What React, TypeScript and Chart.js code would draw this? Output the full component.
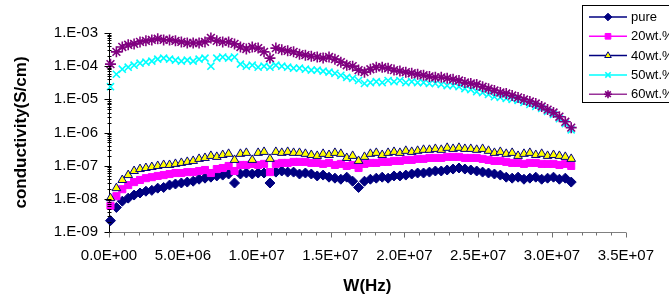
import React, { useEffect, useRef } from 'react';
import { Chart, registerables } from 'chart.js';
import { drawPoint } from 'chart.js/helpers';

Chart.register(...registerables);

// Frequency W (Hz)
const W_HZ = [
  0.1e6, 0.5e6, 0.9e6, 1.3e6, 1.7e6, 2.1e6, 2.5e6, 2.9e6, 3.3e6, 3.7e6,
  4.1e6, 4.5e6, 4.9e6, 5.3e6, 5.7e6, 6.1e6, 6.5e6, 6.9e6, 7.3e6, 7.7e6,
  8.1e6, 8.5e6, 8.9e6, 9.3e6, 9.7e6, 10.1e6, 10.5e6, 10.9e6, 11.3e6, 11.7e6,
  12.1e6, 12.5e6, 12.9e6, 13.3e6, 13.7e6, 14.1e6, 14.5e6, 14.9e6, 15.3e6, 15.7e6,
  16.1e6, 16.5e6, 16.9e6, 17.3e6, 17.7e6, 18.1e6, 18.5e6, 18.9e6, 19.3e6, 19.7e6,
  20.1e6, 20.5e6, 20.9e6, 21.3e6, 21.7e6, 22.1e6, 22.5e6, 22.9e6, 23.3e6, 23.7e6,
  24.1e6, 24.5e6, 24.9e6, 25.3e6, 25.7e6, 26.1e6, 26.5e6, 26.9e6, 27.3e6, 27.7e6,
  28.1e6, 28.5e6, 28.9e6, 29.3e6, 29.7e6, 30.1e6, 30.5e6, 30.9e6, 31.3e6,
];

// Conductivity (S/cm)
const PURE = [
  2.2e-9, 5.5e-9, 8.5e-9, 1.05e-8, 1.3e-8, 1.5e-8, 1.7e-8, 1.8e-8, 2.1e-8, 2.2e-8,
  2.6e-8, 2.8e-8, 3.0e-8, 3.2e-8, 3.4e-8, 3.9e-8, 4.2e-8, 4.5e-8, 4.9e-8, 5.2e-8,
  5.6e-8, 3.0e-8, 5.6e-8, 6.0e-8, 5.6e-8, 6.0e-8, 6.0e-8, 3.0e-8, 6.4e-8, 6.9e-8,
  6.4e-8, 6.4e-8, 5.6e-8, 6.0e-8, 5.6e-8, 4.9e-8, 5.2e-8, 4.5e-8, 4.2e-8, 3.9e-8,
  4.5e-8, 3.4e-8, 2.2e-8, 3.4e-8, 3.9e-8, 4.2e-8, 4.5e-8, 4.2e-8, 4.9e-8, 4.9e-8,
  5.2e-8, 5.6e-8, 6.0e-8, 6.0e-8, 6.4e-8, 6.9e-8, 6.9e-8, 7.4e-8, 7.9e-8, 8.5e-8,
  7.9e-8, 7.4e-8, 6.9e-8, 6.4e-8, 6.0e-8, 5.6e-8, 5.2e-8, 4.5e-8, 4.2e-8, 4.5e-8,
  3.9e-8, 4.2e-8, 4.5e-8, 3.9e-8, 4.2e-8, 4.5e-8, 3.9e-8, 4.2e-8, 3.2e-8,
];
const WT20 = [
  6.2e-9, 1.2e-8, 1.95e-8, 2.6e-8, 3.2e-8, 3.7e-8, 4.2e-8, 4.5e-8, 4.9e-8, 5.2e-8,
  5.6e-8, 6.0e-8, 6.0e-8, 6.4e-8, 6.4e-8, 6.9e-8, 7.4e-8, 6.0e-8, 7.9e-8, 8.5e-8,
  9.8e-8, 6.9e-8, 1.05e-7, 1.05e-7, 1.13e-7, 1.05e-7, 1.13e-7, 6.4e-8, 1.13e-7, 1.21e-7,
  1.21e-7, 1.3e-7, 1.3e-7, 1.3e-7, 1.21e-7, 1.21e-7, 1.13e-7, 1.21e-7, 1.05e-7, 1.13e-7,
  9.8e-8, 1.05e-7, 8.5e-8, 1.13e-7, 1.21e-7, 1.21e-7, 1.3e-7, 1.3e-7, 1.39e-7, 1.39e-7,
  1.49e-7, 1.49e-7, 1.6e-7, 1.6e-7, 1.71e-7, 1.71e-7, 1.71e-7, 1.84e-7, 1.84e-7, 1.84e-7,
  1.71e-7, 1.71e-7, 1.71e-7, 1.6e-7, 1.49e-7, 1.39e-7, 1.39e-7, 1.3e-7, 1.21e-7, 1.21e-7,
  1.13e-7, 1.21e-7, 1.21e-7, 1.13e-7, 1.13e-7, 1.13e-7, 1.05e-7, 1.13e-7, 9.8e-8,
];
const WT40 = [
  1.05e-8, 2.1e-8, 3.7e-8, 5.2e-8, 6.9e-8, 7.9e-8, 8.5e-8, 9.1e-8, 9.8e-8, 1.05e-7,
  1.05e-7, 1.13e-7, 1.21e-7, 1.3e-7, 1.39e-7, 1.6e-7, 1.71e-7, 1.97e-7, 1.84e-7, 2.1e-7,
  2.27e-7, 1.49e-7, 2.27e-7, 2.43e-7, 1.49e-7, 2.43e-7, 2.6e-7, 1.6e-7, 2.6e-7, 2.43e-7,
  2.6e-7, 2.43e-7, 2.43e-7, 2.27e-7, 2.1e-7, 1.97e-7, 2.27e-7, 2.1e-7, 2.43e-7, 2.27e-7,
  1.71e-7, 1.97e-7, 1.39e-7, 1.84e-7, 2.27e-7, 2.43e-7, 2.1e-7, 2.43e-7, 2.6e-7, 2.43e-7,
  2.8e-7, 2.6e-7, 2.8e-7, 3.0e-7, 3.0e-7, 3.2e-7, 3.0e-7, 3.45e-7, 3.2e-7, 3.45e-7,
  3.2e-7, 3.2e-7, 3.0e-7, 3.2e-7, 2.8e-7, 2.43e-7, 2.6e-7, 2.27e-7, 2.43e-7, 1.97e-7,
  2.27e-7, 2.43e-7, 2.1e-7, 2.27e-7, 1.97e-7, 2.1e-7, 1.97e-7, 1.84e-7, 1.6e-7,
];
const WT50 = [
  2.4e-5, 5.7e-5, 8.1e-5, 9.3e-5, 1.07e-4, 1.23e-4, 1.32e-4, 1.42e-4, 1.63e-4, 1.75e-4,
  1.63e-4, 1.52e-4, 1.42e-4, 1.52e-4, 1.42e-4, 1.63e-4, 1.75e-4, 1.0e-4, 1.75e-4, 1.88e-4,
  1.75e-4, 1.88e-4, 1.15e-4, 1.0e-4, 1.07e-4, 9.3e-5, 1.0e-4, 9.3e-5, 1.07e-4, 1.0e-4,
  9.3e-5, 8.7e-5, 8.7e-5, 8.1e-5, 7.6e-5, 7.6e-5, 7.1e-5, 6.6e-5, 6.1e-5, 5.3e-5,
  4.6e-5, 4.3e-5, 3.7e-5, 3.0e-5, 3.2e-5, 3.4e-5, 3.2e-5, 3.7e-5, 3.4e-5, 3.7e-5,
  3.2e-5, 3.4e-5, 3.2e-5, 3.2e-5, 3.0e-5, 3.0e-5, 2.8e-5, 2.6e-5, 2.6e-5, 2.4e-5,
  2.1e-5, 1.97e-5, 1.7e-5, 1.6e-5, 1.4e-5, 1.2e-5, 1.14e-5, 1.06e-5, 9.9e-6, 9.3e-6,
  8.1e-6, 7.0e-6, 6.1e-6, 5.3e-6, 4.3e-6, 3.5e-6, 2.6e-6, 1.85e-6, 1.2e-6,
];
const WT60 = [
  1.15e-4, 2.7e-4, 3.8e-4, 4.4e-4, 4.7e-4, 5.4e-4, 5.8e-4, 6.2e-4, 6.7e-4, 6.2e-4,
  6.2e-4, 5.8e-4, 5.4e-4, 5.0e-4, 5.0e-4, 5.0e-4, 5.4e-4, 7.1e-4, 5.8e-4, 5.4e-4,
  5.4e-4, 4.7e-4, 3.8e-4, 3.3e-4, 3.8e-4, 3.5e-4, 2.7e-4, 1.75e-4, 3.5e-4, 3.1e-4,
  2.9e-4, 2.7e-4, 2.3e-4, 2.15e-4, 2.0e-4, 1.88e-4, 1.75e-4, 1.88e-4, 1.63e-4, 1.32e-4,
  1.07e-4, 1.0e-4, 7.6e-5, 6.6e-5, 8.1e-5, 9.3e-5, 9.3e-5, 8.7e-5, 7.6e-5, 7.1e-5,
  6.6e-5, 6.1e-5, 5.7e-5, 5.3e-5, 4.9e-5, 4.6e-5, 4.6e-5, 4.3e-5, 4.0e-5, 3.7e-5,
  3.2e-5, 3.0e-5, 2.8e-5, 2.4e-5, 2.1e-5, 1.85e-5, 1.6e-5, 1.5e-5, 1.3e-5, 1.14e-5,
  9.9e-6, 8.6e-6, 7.5e-6, 6.1e-6, 4.9e-6, 4.0e-6, 3.0e-6, 2.1e-6, 1.4e-6,
];

const SERIES_LABELS = ['pure', '20wt.%', '40wt.%', '50wt.%', '60wt.%'];

const X_TICK_VALUES = [0, 5e6, 1e7, 1.5e7, 2e7, 2.5e7, 3e7, 3.5e7];
const X_TICK_LABELS = ['0.0E+00', '5.0E+06', '1.0E+07', '1.5E+07', '2.0E+07', '2.5E+07', '3.0E+07', '3.5E+07'];
const Y_TICK_VALUES = [1e-9, 1e-8, 1e-7, 1e-6, 1e-5, 1e-4, 1e-3];
const Y_TICK_LABELS = ['1.E-09', '1.E-08', '1.E-07', '1.E-06', '1.E-05', '1.E-04', '1.E-03'];

const FONT = '"Liberation Sans", Arial, Helvetica, sans-serif';

const STYLES = [
  { pointStyle: 'rectRot', radius: 5, legendRadius: 3.8, bg: '#000080', border: '#000080', bw: 1, line: '#000080' },
  { pointStyle: 'rect', radius: 5, legendRadius: 4, bg: '#FF00FF', border: '#FF00FF', bw: 1, line: '#FF00FF' },
  { pointStyle: 'triangle', radius: 5, legendRadius: 3.8, bg: '#FFFF00', border: '#000080', bw: 1, line: '#000080' },
  { pointStyle: 'crossRot', radius: 5, legendRadius: 3.8, bg: '#00FFFF', border: '#00FFFF', bw: 1.6, line: '#00FFFF' },
  { pointStyle: 'star', radius: 5.5, legendRadius: 4, bg: '#800080', border: '#800080', bw: 1.6, line: '#993399' },
];

const axisTicksPlugin = {
  id: 'axisTicks',
  afterDraw(chart: any) {
    const { ctx, chartArea, scales } = chart;
    const xs = scales.x;
    const ys = scales.y;
    ctx.save();
    ctx.strokeStyle = '#000';
    ctx.lineWidth = 1;
    const ax = Math.round(chartArea.left) + 0.5;
    ctx.beginPath();
    for (let d = 0; d < Y_TICK_VALUES.length; d++) {
      const py = Math.round(ys.getPixelForValue(Y_TICK_VALUES[d])) + 0.5;
      ctx.moveTo(ax - 5, py);
      ctx.lineTo(ax + 2, py);
      if (d < Y_TICK_VALUES.length - 1) {
        for (let m = 2; m <= 9; m++) {
          const my = Math.round(ys.getPixelForValue(Y_TICK_VALUES[d] * m)) + 0.5;
          ctx.moveTo(ax - 2, my);
          ctx.lineTo(ax + 2, my);
        }
      }
    }
    ctx.stroke();
    ctx.strokeStyle = '#707070';
    const ay = Math.round(chartArea.bottom) + 0.5;
    ctx.beginPath();
    for (let k = 0; k < X_TICK_VALUES.length; k++) {
      const px = Math.round(xs.getPixelForValue(X_TICK_VALUES[k])) + 0.5;
      ctx.moveTo(px, ay);
      ctx.lineTo(px, ay + 5);
      if (k < X_TICK_VALUES.length - 1) {
        const step = (X_TICK_VALUES[k + 1] - X_TICK_VALUES[k]) / 5;
        for (let m = 1; m < 5; m++) {
          const mx = Math.round(xs.getPixelForValue(X_TICK_VALUES[k] + step * m)) + 0.5;
          ctx.moveTo(mx, ay);
          ctx.lineTo(mx, ay + 3);
        }
      }
    }
    ctx.stroke();
    ctx.restore();
  },
};

const boxLegendPlugin = {
  id: 'boxLegend',
  afterDraw(chart: any) {
    const { ctx } = chart;
    ctx.save();
    const left = 582.5, top = 5.5, right = 700, bottom = 102.5;
    ctx.fillStyle = '#ffffff';
    ctx.fillRect(left, top, right - left, bottom - top);
    ctx.strokeStyle = '#000';
    ctx.lineWidth = 1;
    ctx.strokeRect(left, top, right - left, bottom - top);
    ctx.font = `13px ${FONT}`;
    ctx.textBaseline = 'middle';
    ctx.textAlign = 'left';
    SERIES_LABELS.forEach((label, i) => {
      const st = STYLES[i];
      const y = 17 + i * 19.3;
      ctx.strokeStyle = st.line;
      ctx.lineWidth = 1.5;
      ctx.beginPath();
      ctx.moveTo(589, y);
      ctx.lineTo(627, y);
      ctx.stroke();
      ctx.fillStyle = st.bg;
      ctx.strokeStyle = st.border;
      ctx.lineWidth = st.bw;
      drawPoint(ctx, { pointStyle: st.pointStyle, radius: st.legendRadius, borderWidth: st.bw, rotation: 0 } as any, 608, y);
      ctx.fillStyle = '#000';
      ctx.fillText(label, 631, y + 0.5);
    });
    ctx.restore();
  },
};

export default function App() {
  const canvasRef = useRef<HTMLCanvasElement | null>(null);

  useEffect(() => {
    const canvas = canvasRef.current;
    if (!canvas) return;
    const seriesValues = [PURE, WT20, WT40, WT50, WT60];
    const datasets = seriesValues.map((vals, i) => ({
      label: SERIES_LABELS[i],
      data: W_HZ.map((w, k) => ({ x: w, y: vals[k] })),
      showLine: false,
      pointStyle: STYLES[i].pointStyle,
      pointRadius: STYLES[i].radius,
      pointBackgroundColor: STYLES[i].bg,
      pointBorderColor: STYLES[i].border,
      pointBorderWidth: STYLES[i].bw,
      backgroundColor: STYLES[i].bg,
      borderColor: STYLES[i].border,
      order: 5 - i,
      clip: false,
    }));

    const chart = new Chart(canvas, {
      type: 'scatter',
      data: { datasets: datasets as any },
      plugins: [axisTicksPlugin, boxLegendPlugin],
      options: {
        responsive: false,
        animation: false,
        devicePixelRatio: 1,
        layout: { padding: { left: 8, right: 41, top: 33, bottom: 0 } },
        plugins: {
          legend: { display: false },
          tooltip: { enabled: false },
        },
        scales: {
          x: {
            type: 'linear',
            min: 0,
            max: 3.5e7,
            afterBuildTicks: (scale: any) => {
              scale.ticks = X_TICK_VALUES.map((v) => ({ value: v }));
            },
            afterFit: (scale: any) => {
              scale.height = 67;
            },
            ticks: {
              autoSkip: false,
              maxRotation: 0,
              padding: 15,
              color: '#000',
              font: { family: FONT, size: 15 },
              callback: (_v: any, i: number) => X_TICK_LABELS[i],
            },
            grid: { display: true, drawOnChartArea: false, drawTicks: false },
            border: { display: true, color: '#808080', width: 1 },
            title: {
              display: true,
              text: 'W(Hz)',
              color: '#000',
              font: { family: FONT, size: 17, weight: 'bold' },
              padding: { top: 0, bottom: 2 },
            },
          },
          y: {
            type: 'logarithmic',
            min: 1e-9,
            max: 1e-3,
            afterBuildTicks: (scale: any) => {
              scale.ticks = Y_TICK_VALUES.map((v) => ({ value: v }));
            },
            afterFit: (scale: any) => {
              scale.width = 101;
            },
            ticks: {
              autoSkip: false,
              padding: 11,
              color: '#000',
              font: { family: FONT, size: 15 },
              callback: (_v: any, i: number) => Y_TICK_LABELS[i],
            },
            grid: { display: true, drawOnChartArea: false, drawTicks: false },
            border: { display: true, color: '#000', width: 1 },
            title: {
              display: true,
              text: 'conductivity(S/cm)',
              color: '#000',
              font: { family: FONT, size: 17, weight: 'bold' },
              padding: { top: 3, bottom: 0 },
            },
          },
        },
      } as any,
    });
    return () => chart.destroy();
  }, []);

  return (
    <div style={{ position: 'fixed', left: 0, top: 0, width: 669, height: 299, background: '#fff' }}>
      <canvas ref={canvasRef} width={669} height={299} style={{ display: 'block', width: 669, height: 299 }} />
    </div>
  );
}
